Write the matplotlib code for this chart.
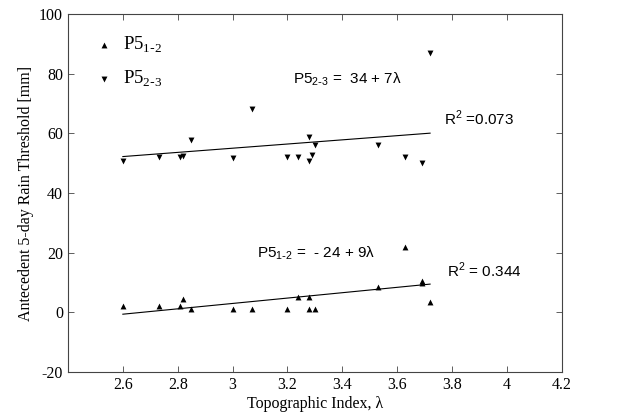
import matplotlib
matplotlib.use("Agg")
import matplotlib.pyplot as plt
import numpy as np

# P5 1-2 (upward triangles)
x12 = [2.60, 2.73, 2.81, 2.82, 2.85, 3.00, 3.07, 3.20, 3.24, 3.28, 3.28, 3.30, 3.53, 3.63, 3.69, 3.69, 3.72]
y12 = [2.0, 2.0, 2.0, 4.6, 1.2, 1.2, 1.2, 1.2, 5.2, 5.0, 1.3, 1.2, 8.6, 22.0, 10.0, 10.6, 3.6]
# P5 2-3 (downward triangles)
x23 = [2.60, 2.73, 2.81, 2.82, 2.85, 3.00, 3.07, 3.20, 3.24, 3.28, 3.28, 3.29, 3.30, 3.53, 3.63, 3.69, 3.72]
y23 = [50.8, 52.0, 52.0, 52.3, 57.8, 51.8, 68.0, 52.0, 52.0, 50.8, 58.8, 52.8, 56.2, 56.2, 52.0, 50.0, 86.8]

fit12 = {"a": -24, "b": 9}
fit23 = {"a": 34, "b": 7}
fit_range = [2.6, 3.72]

xticks = [2.6, 2.8, 3.0, 3.2, 3.4, 3.6, 3.8, 4.0, 4.2]
xticklabels = ["2.6", "2.8", "3", "3.2", "3.4", "3.6", "3.8", "4", "4.2"]
yticks = [-20, 0, 20, 40, 60, 80, 100]

serif = ["Liberation Serif", "DejaVu Serif"]
sans = ["Liberation Sans", "DejaVu Sans"]

fig = plt.figure(figsize=(6.18, 4.2), dpi=100)
ax = fig.add_axes([0.110, 0.114, 0.799, 0.853])

ax.scatter(x12, y12, marker="^", s=18, color="black", linewidths=0, label=r"P5$_{\mathregular{1\text{-}2}}$", zorder=3)
ax.scatter(x23, y23, marker="v", s=18, color="black", linewidths=0, label=r"P5$_{\mathregular{2\text{-}3}}$", zorder=3)

xf = np.array(fit_range)
ax.plot(xf, fit12["a"] + fit12["b"] * xf, color="black", lw=0.8)
ax.plot(xf, fit23["a"] + fit23["b"] * xf, color="black", lw=0.8)

ax.text(3.22, 78, "P5$_{\\mathregular{2\\text{-}3}}$ =  34 + 7λ", family=sans, fontsize=11, va="center")
ax.text(3.77, 65, r"R$^{\mathregular{2}}$ =0.073", family=sans, fontsize=11, va="center")
ax.text(3.09, 20, "P5$_{\\mathregular{1\\text{-}2}}$ =  - 24 + 9λ", family=sans, fontsize=11, va="center")
ax.text(3.78, 14, r"R$^{\mathregular{2}}$ = 0.344", family=sans, fontsize=11, va="center")

ax.set_xlim(2.4, 4.2)
ax.set_ylim(-20, 100)
ax.set_xticks(xticks)
ax.set_xticklabels(xticklabels, family=serif, fontsize=11.5)
ax.set_yticks(yticks)
ax.set_yticklabels([str(v) for v in yticks], family=serif, fontsize=11.5)
ax.tick_params(direction="in", top=True, right=True, length=4, width=0.6, colors="#444444", labelcolor="black")
for s in ax.spines.values():
    s.set_linewidth(0.8)
    s.set_color("#444444")

ax.set_xlabel("Topographic Index, λ", family=serif, fontsize=11.5, labelpad=2)
ax.set_ylabel("Antecedent 5-day Rain Threshold [mm]", family=serif, fontsize=11.5, labelpad=4)

leg = ax.legend(loc="upper left", bbox_to_anchor=(0.012, 1.0), frameon=False,
                prop={"family": serif, "size": 13.5},
                handletextpad=0.5, handlelength=1.0, borderaxespad=0.7, borderpad=0.4,
                labelspacing=0.75, scatterpoints=1, markerscale=1.0)

fig.savefig("out.png", dpi=100)
